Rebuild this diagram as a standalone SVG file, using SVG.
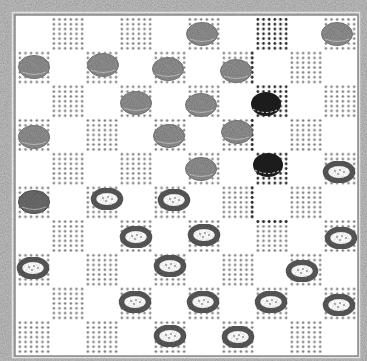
<svg xmlns="http://www.w3.org/2000/svg" xmlns:xlink="http://www.w3.org/1999/xlink" width="367" height="361" viewBox="0 0 367 361">
  <defs>
    <pattern id="dots" x="17" y="17" width="5.667" height="4.814" patternUnits="userSpaceOnUse">
      <circle cx="2.83" cy="2.4" r="1.3" fill="#7c7c7c"/>
    </pattern>
    <pattern id="darkdots" x="17" y="17" width="5.667" height="4.814" patternUnits="userSpaceOnUse">
      <circle cx="2.83" cy="2.4" r="1.35" fill="#262626"/>
    </pattern>
    <filter id="grain" x="-10%" y="-10%" width="120%" height="120%">
      <feTurbulence type="fractalNoise" baseFrequency="0.9" numOctaves="2" seed="3" result="n"/>
      <feColorMatrix in="n" type="matrix" values="0 0 0 0 0  0 0 0 0 0  0 0 0 0 0  0 0 0 0.7 -0.25" result="a"/>
      <feComposite in="a" in2="SourceGraphic" operator="in" result="g"/>
      <feMerge><feMergeNode in="SourceGraphic"/><feMergeNode in="g"/></feMerge>
    </filter>
    <g id="gp">
      <ellipse cx="0" cy="0" rx="15.5" ry="11.5" fill="#8c8c8c" stroke="#7a7a7a" stroke-width="1" filter="url(#grain)"/>
      <path d="M-12,5 Q0,10 12,5" fill="none" stroke="#b4b4b4" stroke-width="1"/>
    </g>
    <g id="bp">
      <ellipse cx="0" cy="0" rx="15" ry="12" fill="#1c1c1c"/>
      <path d="M-13,5 Q0,12 13,5" fill="none" stroke="#d8d8d8" stroke-width="1" stroke-dasharray="2.5 2"/>
    </g>
    <g id="wp">
      <ellipse cx="0" cy="0" rx="13.5" ry="8.8" fill="#ffffff" stroke="#595959" stroke-width="5.5" filter="url(#grain)"/>
      <circle cx="-4" cy="-1" r="1.1" fill="#999"/>
      <circle cx="1" cy="-2" r="1.1" fill="#999"/>
      <circle cx="5" cy="0" r="1.1" fill="#999"/>
      <circle cx="-1" cy="2" r="1.1" fill="#999"/>
    </g>
  </defs>
  <style>
    .sq { fill: url(#dots); }
    .dsq { fill: url(#darkdots); }
  </style>

  <g id="frame">
    <rect x="0" y="0" width="367" height="361" fill="#b8b8b8" filter="url(#grain)"/>
    <rect x="12.5" y="12.5" width="347" height="345" fill="none" stroke="#e2e2e2" stroke-width="1.5"/>
    <rect x="15" y="15" width="343" height="341" fill="#ffffff" stroke="#8a8a8a" stroke-width="1.5"/>
  </g>

  <g id="squares">
    <rect class="sq" x="51" y="17" width="34" height="33.7"/>
    <rect class="sq" x="119" y="17" width="34" height="33.7"/>
    <rect class="sq" x="187" y="17" width="34" height="33.7"/>
    <rect class="dsq" x="255" y="17" width="34" height="33.7"/>
    <rect class="sq" x="323" y="17" width="34" height="33.7"/>

    <rect class="sq" x="17" y="50.7" width="34" height="33.7"/>
    <rect class="sq" x="85" y="50.7" width="34" height="33.7"/>
    <rect class="sq" x="153" y="50.7" width="34" height="33.7"/>
    <rect class="sq" x="221" y="50.7" width="34" height="33.7"/>
    <rect class="sq" x="289" y="50.7" width="34" height="33.7"/>

    <rect class="sq" x="51" y="84.4" width="34" height="33.7"/>
    <rect class="sq" x="119" y="84.4" width="34" height="33.7"/>
    <rect class="sq" x="187" y="84.4" width="34" height="33.7"/>
    <rect class="dsq" x="255" y="84.4" width="34" height="33.7"/>
    <rect class="sq" x="323" y="84.4" width="34" height="33.7"/>

    <rect class="sq" x="17" y="118.1" width="34" height="33.7"/>
    <rect class="sq" x="85" y="118.1" width="34" height="33.7"/>
    <rect class="sq" x="153" y="118.1" width="34" height="33.7"/>
    <rect class="sq" x="221" y="118.1" width="34" height="33.7"/>
    <rect class="sq" x="289" y="118.1" width="34" height="33.7"/>

    <rect class="sq" x="51" y="151.8" width="34" height="33.7"/>
    <rect class="sq" x="119" y="151.8" width="34" height="33.7"/>
    <rect class="sq" x="187" y="151.8" width="34" height="33.7"/>
    <rect class="dsq" x="255" y="151.8" width="34" height="33.7"/>
    <rect class="sq" x="323" y="151.8" width="34" height="33.7"/>

    <rect class="sq" x="17" y="185.5" width="34" height="33.7"/>
    <rect class="sq" x="85" y="185.5" width="34" height="33.7"/>
    <rect class="sq" x="153" y="185.5" width="34" height="33.7"/>
    <rect class="sq" x="221" y="185.5" width="34" height="33.7"/>
    <rect class="sq" x="289" y="185.5" width="34" height="33.7"/>

    <rect class="sq" x="51" y="219.2" width="34" height="33.7"/>
    <rect class="sq" x="119" y="219.2" width="34" height="33.7"/>
    <rect class="sq" x="187" y="219.2" width="34" height="33.7"/>
    <rect class="sq" x="255" y="219.2" width="34" height="33.7"/>
    <rect class="sq" x="323" y="219.2" width="34" height="33.7"/>

    <rect class="sq" x="17" y="252.9" width="34" height="33.7"/>
    <rect class="sq" x="85" y="252.9" width="34" height="33.7"/>
    <rect class="sq" x="153" y="252.9" width="34" height="33.7"/>
    <rect class="sq" x="221" y="252.9" width="34" height="33.7"/>
    <rect class="sq" x="289" y="252.9" width="34" height="33.7"/>

    <rect class="sq" x="51" y="286.6" width="34" height="33.7"/>
    <rect class="sq" x="119" y="286.6" width="34" height="33.7"/>
    <rect class="sq" x="187" y="286.6" width="34" height="33.7"/>
    <rect class="sq" x="255" y="286.6" width="34" height="33.7"/>
    <rect class="sq" x="323" y="286.6" width="34" height="33.7"/>

    <rect class="sq" x="17" y="320.3" width="34" height="33.7"/>
    <rect class="sq" x="85" y="320.3" width="34" height="33.7"/>
    <rect class="sq" x="153" y="320.3" width="34" height="33.7"/>
    <rect class="sq" x="221" y="320.3" width="34" height="33.7"/>
    <rect class="sq" x="289" y="320.3" width="34" height="33.7"/>

    <rect class="dsq" x="249.5" y="50.7" width="5.5" height="33.7"/>
    <rect class="dsq" x="249.5" y="118.1" width="5.5" height="33.7"/>
    <rect class="dsq" x="249.5" y="185.5" width="5.5" height="33.7"/>
    <rect class="dsq" x="255" y="219.2" width="34" height="4.8"/>
  </g>

  <g id="pieces">
    <use id="g1" href="#gp" xlink:href="#gp" x="202" y="34"/>
    <use id="g2" href="#gp" xlink:href="#gp" x="337" y="34"/>
    <use id="g3" href="#gp" xlink:href="#gp" x="34" y="67"/>
    <use id="g4" href="#gp" xlink:href="#gp" x="103" y="65"/>
    <use id="g5" href="#gp" xlink:href="#gp" x="168" y="69"/>
    <use id="g6" href="#gp" xlink:href="#gp" x="236" y="71"/>
    <use id="g7" href="#gp" xlink:href="#gp" x="136" y="103"/>
    <use id="g8" href="#gp" xlink:href="#gp" x="201" y="105"/>
    <use id="g9" href="#gp" xlink:href="#gp" x="34" y="137"/>
    <use id="g10" href="#gp" xlink:href="#gp" x="169" y="136"/>
    <use id="g11" href="#gp" xlink:href="#gp" x="237" y="132"/>
    <use id="g12" href="#gp" xlink:href="#gp" x="201" y="169"/>
    <g id="g13">
      <ellipse cx="34" cy="202" rx="15.5" ry="11.5" fill="#6a6a6a" stroke="#555" stroke-width="1" filter="url(#grain)"/>
      <path d="M22,207 Q34,212 46,207" fill="none" stroke="#a8a8a8" stroke-width="1"/>
    </g>

    <use id="b1" href="#bp" xlink:href="#bp" x="266" y="104"/>
    <use id="b2" href="#bp" xlink:href="#bp" x="268" y="165"/>

    <use id="w1" href="#wp" xlink:href="#wp" x="339" y="172"/>
    <use id="w2" href="#wp" xlink:href="#wp" x="107" y="199"/>
    <use id="w3" href="#wp" xlink:href="#wp" x="174" y="200"/>
    <use id="w4" href="#wp" xlink:href="#wp" x="136" y="237"/>
    <use id="w5" href="#wp" xlink:href="#wp" x="204" y="235"/>
    <use id="w6" href="#wp" xlink:href="#wp" x="341" y="238"/>
    <use id="w7" href="#wp" xlink:href="#wp" x="33" y="268"/>
    <use id="w8" href="#wp" xlink:href="#wp" x="170" y="266"/>
    <use id="w9" href="#wp" xlink:href="#wp" x="302" y="271"/>
    <use id="w10" href="#wp" xlink:href="#wp" x="135" y="302"/>
    <use id="w11" href="#wp" xlink:href="#wp" x="203" y="302"/>
    <use id="w12" href="#wp" xlink:href="#wp" x="271" y="302"/>
    <use id="w13" href="#wp" xlink:href="#wp" x="339" y="305"/>
    <use id="w14" href="#wp" xlink:href="#wp" x="170" y="336"/>
    <use id="w15" href="#wp" xlink:href="#wp" x="238" y="337"/>
  </g>
</svg>
